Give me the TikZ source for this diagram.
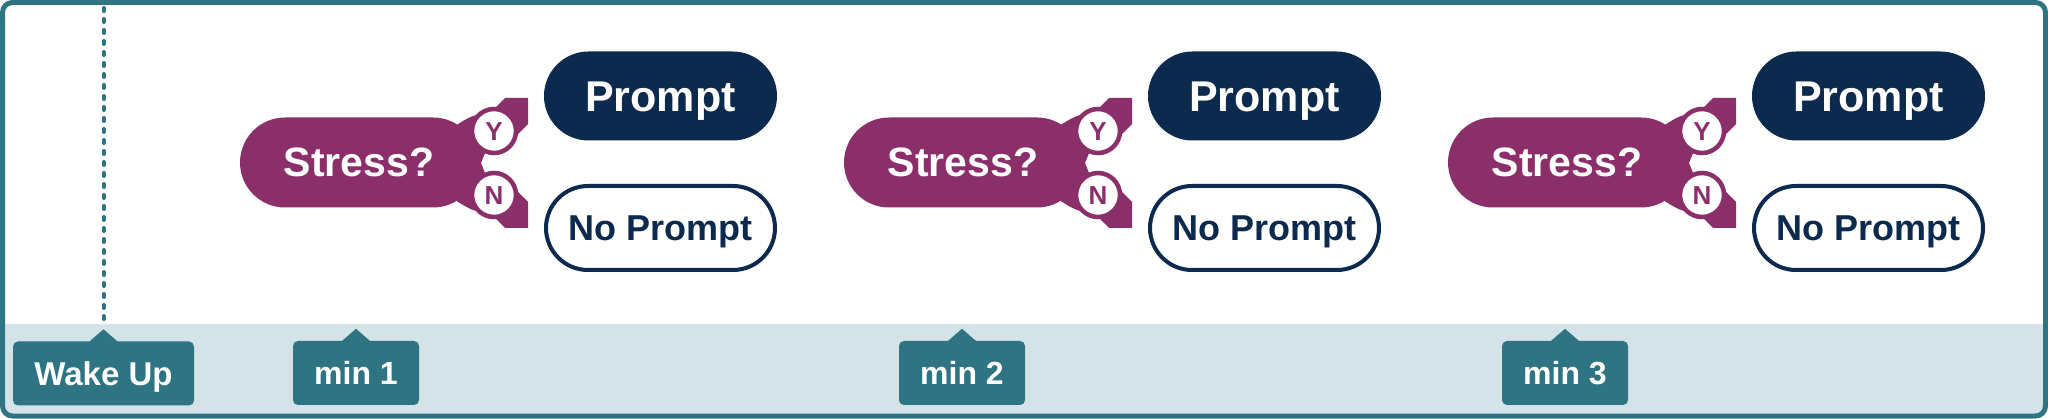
\documentclass[tikz,border=0pt]{standalone}
\usepackage{fontspec}
\setmainfont{Liberation Sans}
\usetikzlibrary{calc}
\definecolor{plum}{HTML}{8B2F6B}
\definecolor{navy}{HTML}{0B2A4E}
\definecolor{tealc}{HTML}{2E7482}
\definecolor{bandc}{HTML}{D4E3E7}
\newcommand\fsz[1]{\fontsize{#1}{#1}\selectfont\bfseries}
\begin{document}
\begin{tikzpicture}[x=1pt,y=-1pt,
  stressbox/.style={fill=plum, text=white, minimum width=238pt, minimum height=90pt,
    rounded corners=45pt, inner sep=0pt, font=\fsz{41}, text height=29pt, text depth=0pt},
  ynring/.style={circle, fill=white, draw=plum, line width=4.5pt, minimum size=44pt,
    inner sep=0pt, text=plum, font=\fsz{26}, text height=18.6pt, text depth=0pt},
  promptbox/.style={fill=navy, text=white, minimum width=233pt, minimum height=89pt,
    rounded corners=44.5pt, inner sep=0pt, font=\fsz{43}, text height=31pt, text depth=0pt},
  nopromptbox/.style={draw=navy, line width=4pt, fill=white, text=navy, minimum width=229pt,
    minimum height=84pt, rounded corners=42pt, inner sep=0pt, font=\fsz{36}, text height=25.8pt, text depth=0pt},
  timebox/.style={fill=tealc, text=white, rounded corners=5pt, minimum height=64pt,
    inner sep=0pt, font=\fsz{32}, text height=23pt, text depth=0pt},
  dotline/.style={draw=tealc, line width=4pt, line cap=round, dash pattern=on 3pt off 8pt}
]
\useasboundingbox (0,0) rectangle (2048,419);
\fill[white] (0,0) rectangle (2048,419);
% frame and band
\begin{scope}
  \clip[rounded corners=10pt] (2.5,2.5) rectangle (2045.5,416);
  \fill[bandc] (0,324) rectangle (2048,419);
\end{scope}
\draw[tealc, line width=5pt, rounded corners=10pt] (2.5,2.5) rectangle (2045.5,416);

% wake up marker
\node[timebox, minimum width=181pt, font=\fsz{33}, text height=23.7pt] (wake) at (103.5,373.5) {Wake Up};
\fill[tealc] ($(wake.north)+(-15,1)$) -- ($(wake.north)+(0,-12)$) -- ($(wake.north)+(15,1)$) -- cycle;
\coordinate (dtop) at (103.5,8);
\coordinate (dbot) at (103.5,322);
\draw[dotline] (dtop) -- (dbot);

\foreach \i/\o/\mc in {1/0/356, 2/604/962, 3/1208/1565} {
  \begin{scope}[xshift=\o pt]
    % neck and tabs
    \fill[plum] (455,126) .. controls (463,121) and (469,117) .. (476,115) -- (494,131) -- (481,163) -- (494,195)
      -- (476,211) .. controls (469,209) and (463,205) .. (455,200) -- cycle;
    \fill[plum] (494,131) -- (494,109) -- (505,98) -- (528,98) -- (528,124) -- (517,135) -- cycle;
    \fill[plum] (494,195) -- (494,217) -- (505,228) -- (528,228) -- (528,202) -- (517,191) -- cycle;
    \node[stressbox] (st\i) at (359,162.5) {Stress?};
    \node[ynring] (y\i) at (494,131) {Y};
    \node[ynring] (n\i) at (494,195) {N};
    \node[promptbox] (p\i) at (660.5,96) {Prompt};
    \node[nopromptbox] (np\i) at (660.5,228) {No Prompt};
  \end{scope}
  \node[timebox, minimum width=126pt] (m\i) at (\mc,373) {min \i};
  \fill[tealc] ($(m\i.north)+(-15,1)$) -- ($(m\i.north)+(0,-12)$) -- ($(m\i.north)+(15,1)$) -- cycle;
}
\end{tikzpicture}
\end{document}
